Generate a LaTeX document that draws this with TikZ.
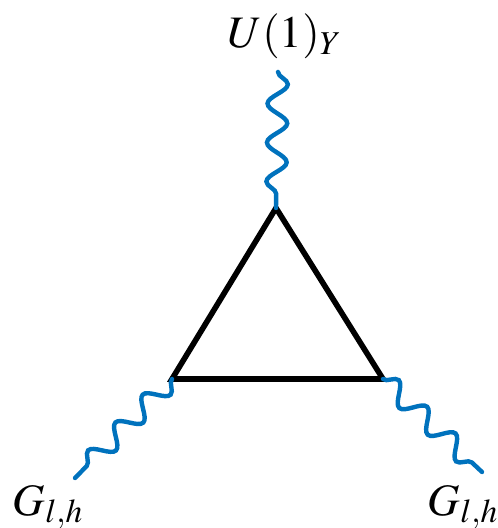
\documentclass[tikz,border=0pt]{standalone}
\usepackage{mathptmx}
\usetikzlibrary{decorations.pathmorphing}
\definecolor{gaugeblue}{RGB}{0,114,189}
\tikzset{
  gauge/.style={gaugeblue, line width=2.2pt, line cap=round, decorate,
    decoration={snake, segment length=19.5pt, amplitude=5pt}},
  fermionloop/.style={line width=2.8pt, line join=miter},
  lbl/.style={font=\fontsize{22.5}{27}\selectfont, inner sep=0pt, anchor=base}
}
\begin{document}
\begin{tikzpicture}[x=0.5pt,y=-0.5pt]
    \useasboundingbox (0,0) rectangle (497,528);

    % triangle vertices
    \coordinate (top) at (276,208);
    \coordinate (left) at (172,379);
    \coordinate (right) at (383,379);

    % free ends of the gauge lines
    \coordinate (topend) at (278,72);
    \coordinate (leftend) at (75,478);
    \coordinate (rightend) at (482,472);

    \draw[fermionloop] (top) -- (left) -- (right) -- cycle;

    \draw[gauge] (topend) -- (top);
    \draw[gauge] (left) -- (leftend);
    \draw[gauge] (right) -- (rightend);

    \node[lbl] (u1) at (285,48) {$U(1)_Y$};
    \node[lbl] (gl) at (48,515) {$G_{l,h}$};
    \node[lbl] (gr) at (463,515) {$G_{l,h}$};
\end{tikzpicture}
\end{document}
